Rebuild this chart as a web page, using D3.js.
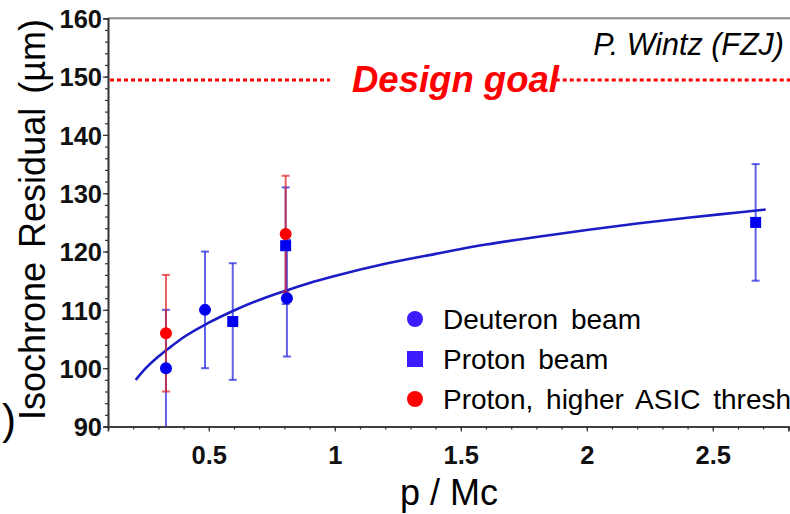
<!DOCTYPE html>
<html><head><meta charset="utf-8">
<script src="https://cdn.jsdelivr.net/npm/d3@7"></script>
<style>
body{margin:0;background:#fff;}
svg{display:block;font-family:"Liberation Sans",Arial,sans-serif;}
</style></head>
<body><svg id="c" width="790" height="514"></svg>
<script>
// ---- data ----
const deuteron = [ // x, y, lower, upper
  {x:0.33, y:100, lo:90,  hi:110},
  {x:0.485,y:110, lo:100, hi:120},
  {x:0.81, y:112, lo:102, hi:122}
];
const proton = [
  {x:0.595,y:108, lo:98,  hi:118},
  {x:0.805,y:121, lo:111, hi:131},
  {x:2.67, y:125, lo:115, hi:135}
];
const protonHigh = [
  {x:0.33, y:106, lo:96,  hi:116},
  {x:0.805,y:123, lo:113, hi:133}
];
const fitX = [0.21,0.25,0.3,0.35,0.4,0.5,0.6,0.7,0.8,0.9,1.0,1.2,1.4,1.6,1.8,2.0,2.2,2.4,2.6,2.71];
const fitY = [98.0,100.0,102.0,103.7,105.3,107.8,109.9,111.7,113.2,114.6,115.8,117.9,119.6,121.2,122.5,123.7,124.8,125.8,126.7,127.2];
const xTicks = [0.5,1,1.5,2,2.5];
const xTickLabels = ["0.5","1","1.5","2","2.5"];
const yTicks = [90,100,110,120,130,140,150,160];
const designGoal = 149.4;
const legendLabels = ["Deuteron beam","Proton beam","Proton, higher ASIC thresh"];

// ---- layout ----
const svg = d3.select("#c");
const x = d3.scaleLinear().domain([0.1,2.8]).range([108,788.4]);
const y = d3.scaleLinear().domain([90,160]).range([426.5,18.3]);
const blue = "#0000ee", red = "#ff0000";

// top frame
svg.append("line").attr("x1",108).attr("x2",790).attr("y1",y(160)).attr("y2",y(160))
  .attr("stroke","#8a8a8a").attr("stroke-width",2);

// axes
const yMinor = d3.range(90,160.1,2);
const xMinor = d3.range(0.1,2.801,0.1);
const gy = svg.append("g").attr("transform","translate(108,0)");
gy.call(d3.axisLeft(y).tickValues(yMinor).tickSize(3).tickFormat(""));
gy.call(g=>g.append("g").call(d3.axisLeft(y).tickValues(yTicks).tickSize(5).tickFormat(d3.format("d"))));
const gx = svg.append("g").attr("transform","translate(0,426.5)");
gx.call(d3.axisBottom(x).tickValues(xMinor).tickSize(3).tickFormat(""));
gx.call(g=>g.append("g").call(d3.axisBottom(x).tickValues(xTicks).tickSize(5).tickFormat((d,i)=>xTickLabels[i])));
svg.selectAll(".domain").attr("stroke","#333").attr("stroke-width",1.6);
svg.selectAll(".tick line").attr("stroke","#333").attr("stroke-width",1.2);
gy.selectAll("text").attr("font-size",25.5).attr("font-weight","bold").attr("fill","#111")
  .attr("font-family","Liberation Sans, Arial, sans-serif").attr("x",-6).attr("dy","0.36em");
gx.selectAll("text").attr("font-size",25.5).attr("font-weight","bold").attr("fill","#111")
  .attr("font-family","Liberation Sans, Arial, sans-serif").attr("y",19).attr("dy","0.71em");

// design goal
const dg = svg.append("g");
const dgText = svg.append("text").attr("x",352).attr("y",y(designGoal)+12)
  .attr("font-size",36.5).attr("font-weight","bold").attr("font-style","italic").attr("fill",red)
  .text("Design goal");
const bb = dgText.node().getBBox();
dg.append("line").attr("x1",x(0.1)+2).attr("x2",bb.x-22).attr("y1",y(designGoal)).attr("y2",y(designGoal))
  .attr("stroke",red).attr("stroke-width",3).attr("stroke-dasharray","4,3");
dg.append("line").attr("x1",bb.x+bb.width-4).attr("x2",790).attr("y1",y(designGoal)).attr("y2",y(designGoal))
  .attr("stroke",red).attr("stroke-width",3).attr("stroke-dasharray","4,3");

svg.append("text").attr("x",784).attr("y",55).attr("text-anchor","end")
  .attr("font-size",30.5).attr("font-style","italic").attr("fill","#000").text("P. Wintz (FZJ)");

// fit curve
const fit = fitX.map((d,i)=>[d,fitY[i]]);
svg.append("path").datum(fit)
  .attr("d",d3.line().x(d=>x(d[0])).y(d=>y(d[1])).curve(d3.curveMonotoneX))
  .attr("fill","none").attr("stroke","#1c1cc4").attr("stroke-width",2.6);

// error bars + markers
function errBars(data,color,op){
  const g = svg.append("g").attr("stroke",color).attr("stroke-opacity",op).attr("stroke-width",2);
  data.forEach(d=>{
    g.append("line").attr("x1",x(d.x)).attr("x2",x(d.x)).attr("y1",y(d.lo)).attr("y2",y(d.hi));
    if(d.lo>90) g.append("line").attr("x1",x(d.x)-4).attr("x2",x(d.x)+4).attr("y1",y(d.lo)).attr("y2",y(d.lo));
    g.append("line").attr("x1",x(d.x)-4).attr("x2",x(d.x)+4).attr("y1",y(d.hi)).attr("y2",y(d.hi));
  });
}
errBars(deuteron,"#2020e0",0.7);
errBars(proton,"#2020e0",0.7);
errBars(protonHigh,"#e02020",0.7);
svg.append("g").selectAll("circle").data(deuteron).join("circle")
  .attr("cx",d=>x(d.x)).attr("cy",d=>y(d.y)).attr("r",6).attr("fill",blue);
svg.append("g").selectAll("rect").data(proton).join("rect")
  .attr("x",d=>x(d.x)-5.5).attr("y",d=>y(d.y)-5.5).attr("width",11).attr("height",11).attr("fill",blue);
svg.append("g").selectAll("circle").data(protonHigh).join("circle")
  .attr("cx",d=>x(d.x)).attr("cy",d=>y(d.y)).attr("r",6).attr("fill",red);

// legend
const lg = svg.append("g");
const rows = [319,359,399];
const lc = "#3a1cff";
lg.append("circle").attr("cx",415).attr("cy",rows[0]).attr("r",8).attr("fill",lc);
lg.append("rect").attr("x",407).attr("y",rows[1]-8).attr("width",16).attr("height",16).attr("fill",lc);
lg.append("circle").attr("cx",415).attr("cy",rows[2]).attr("r",8).attr("fill",red);
legendLabels.forEach((t,i)=>{
  lg.append("text").attr("x",443).attr("y",rows[i]+10).attr("font-size",28).attr("word-spacing",5)
    .attr("fill","#000").text(t);
});

// axis titles
svg.append("text").attr("transform","translate(45,420) rotate(-90)")
  .attr("font-size",36).attr("fill","#000").attr("word-spacing",4).text("Isochrone Residual (µm)");
svg.append("text").attr("x",400).attr("y",505).attr("font-size",36).attr("fill","#000").text("p / Mc");
svg.append("text").attr("x",2).attr("y",434).attr("font-size",42).attr("fill","#000").text(")");
</script></body></html>
